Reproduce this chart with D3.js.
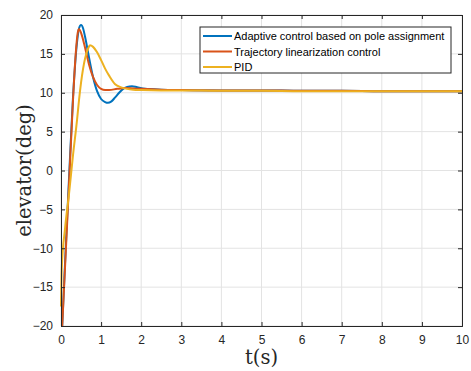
<!DOCTYPE html>
<html>
<head>
<meta charset="utf-8">
<script src="https://cdn.jsdelivr.net/npm/d3@7"></script>
<style>
  body { margin: 0; background: #fff; }
</style>
</head>
<body>
<div id="chart"></div>
<script>
// data
var seriesNames = ["Adaptive control based on pole assignment", "Trajectory linearization control", "PID"];
var seriesColors = ["#0072BD", "#D95319", "#EDB120"];

var tAdaptive = [0.03, 0.1, 0.2, 0.3, 0.4, 0.45, 0.5, 0.55, 0.6, 0.7, 0.8, 0.9, 1.0, 1.1, 1.17, 1.25, 1.35, 1.45, 1.55, 1.65, 1.77, 1.9, 2.1, 2.5, 3, 4, 5, 6, 7, 8, 9, 10];
var vAdaptive = [-20, -12, -1, 9.5, 16.5, 18.3, 18.7, 18.3, 17.2, 14.5, 12.0, 10.2, 9.2, 8.8, 8.7, 8.85, 9.4, 10.0, 10.5, 10.75, 10.85, 10.7, 10.5, 10.4, 10.35, 10.3, 10.3, 10.25, 10.25, 10.2, 10.2, 10.2];

var tTrajectory = [0.03, 0.1, 0.2, 0.3, 0.36, 0.42, 0.45, 0.5, 0.6, 0.7, 0.8, 0.9, 1.0, 1.1, 1.2, 1.4, 1.6, 1.8, 2.0, 2.5, 3, 4, 5, 6, 7, 8, 9, 10];
var vTrajectory = [-20, -12.5, -1.7, 9.1, 14.5, 17.8, 18.2, 17.7, 15.8, 13.6, 12.0, 11.0, 10.5, 10.35, 10.35, 10.5, 10.6, 10.55, 10.5, 10.4, 10.35, 10.3, 10.3, 10.25, 10.25, 10.2, 10.2, 10.2];

var tPID = [0, 0.02, 0.1, 0.2, 0.3, 0.4, 0.45, 0.5, 0.6, 0.67, 0.72, 0.8, 0.9, 1.0, 1.1, 1.2, 1.35, 1.5, 1.65, 1.8, 2.0, 2.5, 3, 4, 5, 6, 7, 8, 9, 10];
var vPID = [-17.5, -12.5, -7.5, -3, 2, 6.5, 9.1, 11.3, 14.4, 15.6, 16.1, 15.9, 15.2, 14.2, 13.1, 12.2, 11.1, 10.7, 10.5, 10.4, 10.35, 10.3, 10.3, 10.25, 10.25, 10.2, 10.2, 10.2, 10.2, 10.2];

var xTicks = [0, 1, 2, 3, 4, 5, 6, 7, 8, 9, 10];
var yTicks = [-20, -15, -10, -5, 0, 5, 10, 15, 20];

// svg size
var w_svg = 471;
var h_svg = 371;

// plot box
var boxL = 61, boxR = 462, boxT = 15, boxB = 326;

var svg = d3.select("#chart")
  .append("svg")
  .attr("width", w_svg)
  .attr("height", h_svg);

var xScale = d3.scaleLinear().domain([0, 10]).range([boxL, boxR]);
var yScale = d3.scaleLinear().domain([-20, 20]).range([boxB, boxT]);

// grid lines
svg.append("g").selectAll("line")
  .data(xTicks)
  .enter().append("line")
  .attr("x1", function(d) { return xScale(d); })
  .attr("x2", function(d) { return xScale(d); })
  .attr("y1", boxT).attr("y2", boxB)
  .attr("stroke", "#e3e3e3").attr("stroke-width", 1);

svg.append("g").selectAll("line")
  .data(yTicks)
  .enter().append("line")
  .attr("y1", function(d) { return yScale(d); })
  .attr("y2", function(d) { return yScale(d); })
  .attr("x1", boxL).attr("x2", boxR)
  .attr("stroke", "#e3e3e3").attr("stroke-width", 1);

// curves
var allSeries = [
  { t: tAdaptive, v: vAdaptive },
  { t: tTrajectory, v: vTrajectory },
  { t: tPID, v: vPID }
];

var line = d3.line()
  .x(function(d) { return xScale(d[0]); })
  .y(function(d) { return yScale(d[1]); })
  .curve(d3.curveMonotoneX);

allSeries.forEach(function(s, i) {
  var pts = s.t.map(function(t, j) { return [t, s.v[j]]; });
  svg.append("path")
    .datum(pts)
    .attr("d", line)
    .attr("fill", "none")
    .attr("stroke", seriesColors[i])
    .attr("stroke-width", 2)
    .attr("stroke-linejoin", "round");
});

// axes (ticks inside, MATLAB style)
var axisColor = "#262626";
var x_axis = d3.axisBottom(xScale).tickValues(xTicks).tickSize(-4).tickPadding(9).tickFormat(d3.format("d"));
var gx = svg.append("g").attr("transform", "translate(0," + boxB + ")").call(x_axis);

var y_axis = d3.axisLeft(yScale).tickValues(yTicks).tickSize(-4).tickPadding(8).tickFormat(d3.format("d"));
var gy = svg.append("g").attr("transform", "translate(" + boxL + ",0)").call(y_axis);

var gxTop = svg.append("g").attr("transform", "translate(0," + boxT + ")")
  .call(d3.axisTop(xScale).tickValues(xTicks).tickSize(-4).tickFormat(""));
var gyRight = svg.append("g").attr("transform", "translate(" + boxR + ",0)")
  .call(d3.axisRight(yScale).tickValues(yTicks).tickSize(-4).tickFormat(""));

[gx, gy, gxTop, gyRight].forEach(function(g) {
  g.select(".domain").attr("stroke", axisColor).attr("stroke-width", 1);
  g.selectAll(".tick line").attr("stroke", axisColor);
  g.selectAll("text")
    .attr("fill", axisColor)
    .style("font-family", "Liberation Sans, Arial, sans-serif")
    .style("font-size", "12px");
});

// axis labels
svg.append("text")
  .attr("x", (boxL + boxR) / 2)
  .attr("y", 364)
  .attr("text-anchor", "middle")
  .style("font-family", "DejaVu Serif, serif")
  .style("font-size", "19.5px")
  .attr("fill", "#262626")
  .text("t(s)");

svg.append("text")
  .attr("transform", "translate(31," + ((boxT + boxB) / 2) + ") rotate(-90)")
  .attr("text-anchor", "middle")
  .style("font-family", "DejaVu Serif, serif")
  .style("font-size", "19.5px")
  .attr("fill", "#262626")
  .text("elevator(deg)");

// legend
var legX = 200, legY = 27, legW = 251, legH = 46;
var leg = svg.append("g");
leg.append("rect")
  .attr("x", legX).attr("y", legY)
  .attr("width", legW).attr("height", legH)
  .attr("fill", "#fff")
  .attr("stroke", axisColor).attr("stroke-width", 1);

seriesNames.forEach(function(name, i) {
  var yy = legY + 9 + i * 15.5;
  leg.append("line")
    .attr("x1", legX + 3).attr("x2", legX + 32)
    .attr("y1", yy).attr("y2", yy)
    .attr("stroke", seriesColors[i]).attr("stroke-width", 2);
  leg.append("text")
    .attr("x", legX + 34).attr("y", yy + 4)
    .style("font-family", "Liberation Sans, Arial, sans-serif")
    .style("font-size", "11px")
    .attr("fill", "#000")
    .text(name);
});
</script>
</body>
</html>
